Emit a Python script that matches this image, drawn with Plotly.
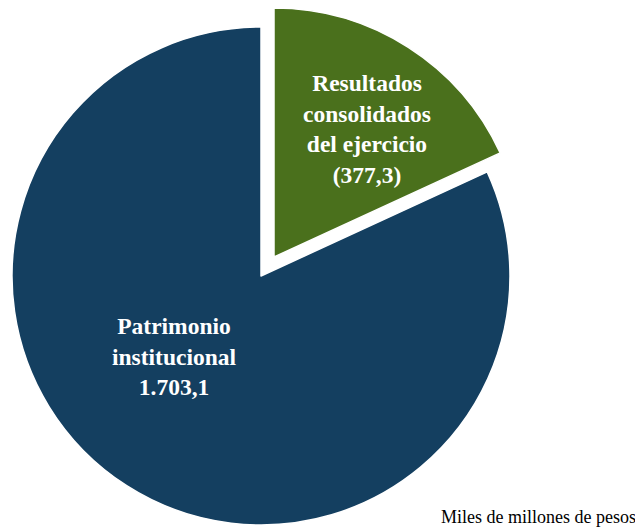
import plotly.graph_objects as go

# Data
labels = ["Resultados<br>consolidados<br>del ejercicio", "Patrimonio<br>institucional"]
values = [377.3, 1703.1]
colors = ["#4A701C", "#143F60"]
unit_note = "Miles de millones de pesos"


def fmt_es(v):
    s = f"{v:,.1f}"
    return s.replace(",", "X").replace(".", ",").replace("X", ".")


value_text = ["(" + fmt_es(values[0]) + ")", fmt_es(values[1])]

# page has an 8px body margin; figure fills the rest of the 643x529 window
W, H = 635, 521
T = "rgba(0,0,0,0)"

fig = go.Figure()

# main (unpulled) slice
fig.add_trace(go.Pie(
    labels=labels, values=values, sort=False, direction="clockwise", rotation=0,
    marker=dict(colors=[T, colors[1]], line=dict(color=[T, "white"], width=[0, 1.5])),
    textinfo="none", hoverinfo="skip", showlegend=False,
    domain=dict(x=[4 / W, 502 / W], y=[1 - 517 / H, 1 - 19 / H]),
))

# exploded slice
fig.add_trace(go.Pie(
    labels=labels, values=values, sort=False, direction="clockwise", rotation=0,
    marker=dict(colors=[colors[0], T], line=dict(color=["white", T], width=[1.5, 0])),
    textinfo="none", hoverinfo="skip", showlegend=False,
    domain=dict(x=[17 / W, 515 / W], y=[1 - 498 / H, 1]),
))

font_lbl = dict(family="Liberation Serif", size=23.5, color="white", weight="bold")
fig.add_annotation(x=359 / W, y=1 - 121 / H, xref="paper", yref="paper",
                   text=labels[0] + "<br>" + value_text[0], showarrow=False,
                   font=font_lbl, align="center", xanchor="center", yanchor="middle")
fig.add_annotation(x=166 / W, y=1 - 348 / H, xref="paper", yref="paper",
                   text=labels[1] + "<br>" + value_text[1], showarrow=False,
                   font=font_lbl, align="center", xanchor="center", yanchor="middle")
fig.add_annotation(x=630 / W, y=0, xref="paper", yref="paper", text=unit_note,
                   showarrow=False, xanchor="right", yanchor="bottom",
                   font=dict(family="Liberation Serif", size=18, color="black"))

fig.update_layout(width=W, height=H, margin=dict(l=0, r=0, t=0, b=0),
                  paper_bgcolor="white", plot_bgcolor="white")
fig.write_html("out.html")
